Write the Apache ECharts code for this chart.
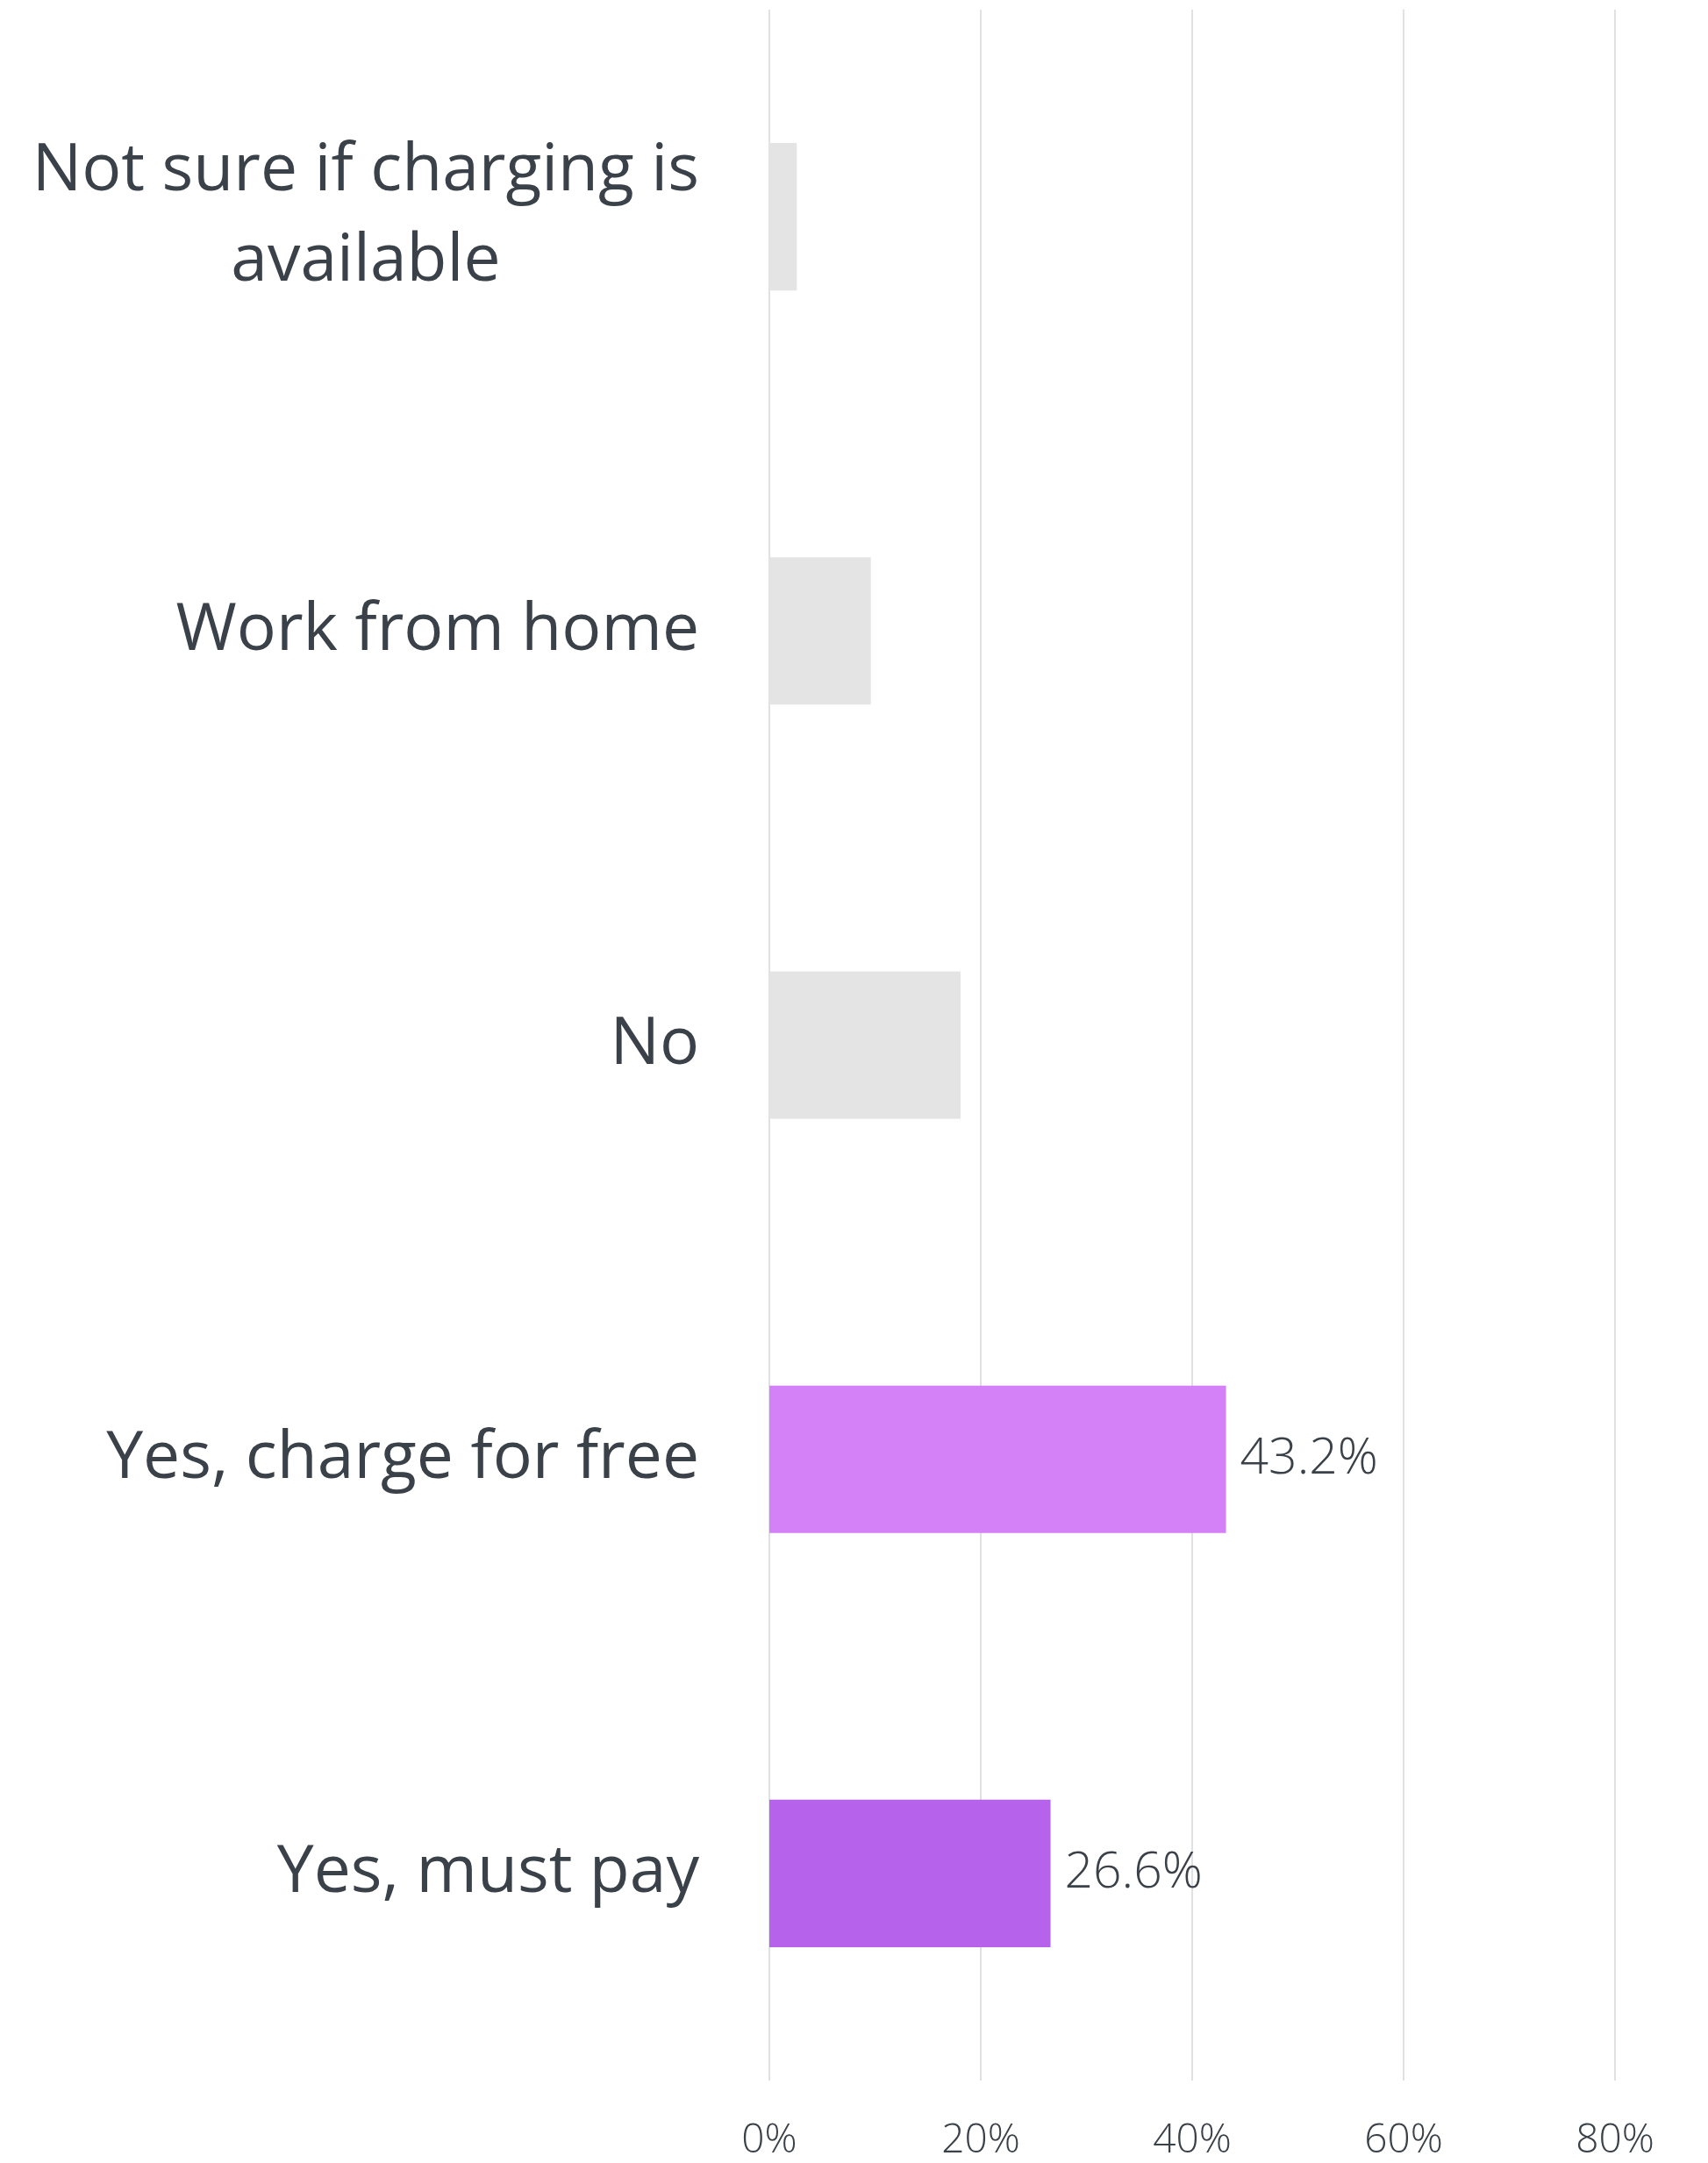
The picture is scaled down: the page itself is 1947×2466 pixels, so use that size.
<!DOCTYPE html>
<html>
<head>
<meta charset="utf-8">
<script src="https://cdn.jsdelivr.net/npm/echarts@6/dist/echarts.min.js"></script>
<style>
    html, body { margin: 0; padding: 0; background: #ffffff; }
    #chart { width: 1947px; height: 2466px; }
</style>
</head>
<body>
<div id="chart"></div>
<script>
var categories = ["Not sure if charging is\navailable", "Work from home", "No", "Yes, charge for free", "Yes, must pay"];
var values = [2.6, 9.6, 18.1, 43.2, 26.6];
var barColors = ["#e4e4e4", "#e4e4e4", "#e4e4e4", "#d480f7", "#b762eb"];
var labelled = [false, false, false, true, true];
var xTicks = [0, 20, 40, 60, 80];

var textColor = "#3a4149";
var chart = echarts.init(document.getElementById("chart"));

var seriesData = [];
for (var i = 0; i < values.length; i++) {
    seriesData.push({
        value: values[i],
        itemStyle: { color: barColors[i] },
        label: { show: labelled[i] }
    });
}

var option = {
    backgroundColor: "#ffffff",
    animation: false,
    grid: { left: 877, right: 106, top: 11, bottom: 94, containLabel: false },
    xAxis: {
        type: "value",
        min: xTicks[0],
        max: xTicks[xTicks.length - 1],
        interval: 20,
        axisLine: { show: false },
        axisTick: { show: false },
        splitLine: { show: true, lineStyle: { color: "#dfe2e5", width: 2 } },
        axisLabel: {
            formatter: "{value}%",
            fontFamily: "Open Sans",
            fontWeight: 300,
            fontSize: 46,
            color: textColor,
            margin: 46
        }
    },
    yAxis: {
        type: "category",
        inverse: true,
        data: categories,
        axisLine: { show: false },
        axisTick: { show: false },
        axisLabel: {
            margin: 80,
            color: textColor,
            formatter: function (v) {
                // 多行标签每行居中
                return v.split("\n").map(function (s) { return "{c|" + s + "}"; }).join("\n");
            },
            rich: {
                c: {
                    fontFamily: "Open Sans",
                    fontSize: 75,
                    lineHeight: 103,
                    color: textColor,
                    align: "center"
                }
            }
        }
    },
    series: [{
        type: "bar",
        data: seriesData,
        barCategoryGap: "64.4%",
        label: {
            position: "right",
            distance: 16,
            fontFamily: "Open Sans",
            fontWeight: 300,
            fontSize: 57,
            color: textColor,
            formatter: function (p) { return p.value.toFixed(1) + "%"; }
        }
    }]
};
chart.setOption(option);
</script>
</body>
</html>
